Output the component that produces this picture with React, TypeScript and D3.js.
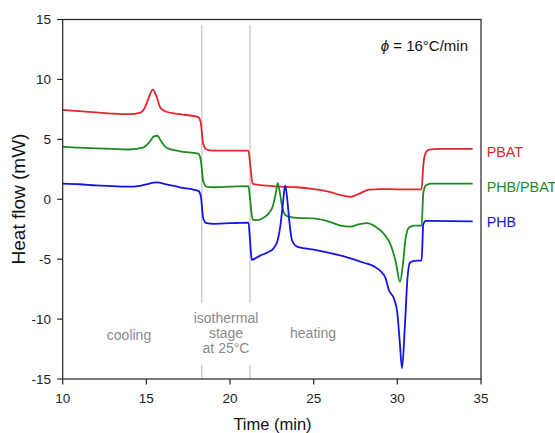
import React from "react";
import * as d3 from "d3";

const pbatT = [10, 11, 12, 13, 14, 14.6, 14.9, 15.15, 15.38, 15.6, 15.85, 16.2, 17, 18.1, 18.25, 18.4, 18.6, 19, 20, 21.1, 21.2, 21.35, 21.7, 22, 23, 24, 25, 26, 26.6, 27.2, 27.7, 28.3, 29, 30, 31, 31.45, 31.55, 31.7, 31.9, 32.5, 34.5];
const pbatV = [7.45, 7.35, 7.25, 7.15, 7.1, 7.2, 7.6, 8.5, 9.15, 8.6, 7.6, 7.3, 7.1, 6.85, 6.4, 4.6, 4.15, 4.05, 4.05, 4.05, 3.0, 1.3, 1.2, 1.15, 1.05, 1.0, 0.85, 0.6, 0.35, 0.2, 0.45, 0.8, 0.85, 0.83, 0.83, 0.83, 2.8, 3.9, 4.15, 4.2, 4.2];

const blendT = [10, 11, 12, 13, 14, 14.8, 15.2, 15.45, 15.65, 15.9, 16.2, 17, 18.1, 18.25, 18.4, 18.6, 19, 20, 21.1, 21.2, 21.35, 21.6, 22.0, 22.3, 22.55, 22.75, 22.85, 22.95, 23.1, 23.3, 23.5, 24, 25, 26, 26.6, 27.2, 27.7, 28.2, 28.7, 29.2, 29.6, 29.9, 30.16, 30.35, 30.5, 30.7, 31.0, 31.45, 31.55, 31.7, 32.0, 34.5];
const blendV = [4.4, 4.3, 4.25, 4.2, 4.15, 4.3, 4.8, 5.25, 5.3, 4.8, 4.3, 4.0, 3.8, 3.3, 1.5, 1.05, 1.0, 1.05, 1.1, 0.0, -1.7, -1.75, -1.55, -1.2, -0.6, 0.6, 1.35, 0.8, -0.5, -1.3, -1.45, -1.55, -1.6, -1.9, -2.2, -2.28, -2.1, -2.0, -2.3, -2.9, -3.8, -5.2, -6.9, -5.2, -3.2, -2.35, -2.2, -2.2, 0.5, 1.15, 1.3, 1.3];

const phbT = [10, 11, 12, 13, 14, 14.5, 15, 15.6, 16.2, 17, 18.1, 18.25, 18.4, 18.6, 19, 20, 21.1, 21.2, 21.3, 21.8, 22.3, 22.6, 22.85, 23.0, 23.15, 23.3, 23.42, 23.55, 23.7, 24.0, 24.5, 25, 26, 27, 28, 28.6, 29.0, 29.3, 29.5, 29.8, 30.0, 30.15, 30.28, 30.45, 30.6, 30.75, 31.0, 31.45, 31.55, 31.7, 32, 34.5];
const phbV = [1.3, 1.25, 1.15, 1.1, 1.05, 1.1, 1.25, 1.4, 1.25, 1.0, 0.7, 0.3, -1.6, -2.0, -2.05, -2.0, -1.95, -3.5, -5.05, -4.7, -4.4, -4.1, -3.4, -2.3, -0.5, 1.15, 0.0, -1.9, -3.4, -3.95, -4.1, -4.2, -4.5, -4.85, -5.3, -5.6, -6.0, -6.6, -7.6, -8.3, -9.5, -12.0, -14.1, -10.6, -6.7, -5.3, -5.15, -5.1, -2.1, -1.8, -1.8, -1.85];

const xTicks = [10, 15, 20, 25, 30, 35];
const yTicks = [-15, -10, -5, 0, 5, 10, 15];
const stageLines = [18.31, 21.2];
const seriesNames = ["PBAT", "PHB/PBAT", "PHB"];
const seriesColors = ["#e0262a", "#1f8a1f", "#1414e6"];

const X0 = 62.7, X1 = 481, Y0 = 379, Y1 = 19.5;

export default function App() {
  const x = d3.scaleLinear().domain([10, 35]).range([X0, X1]);
  const y = d3.scaleLinear().domain([-15, 15]).range([Y0, Y1]);
  const line = d3
    .line<[number, number]>()
    .x((d) => x(d[0]))
    .y((d) => y(d[1]))
    .curve(d3.curveMonotoneX);
  const series = [
    pbatT.map((t, i) => [t, pbatV[i]] as [number, number]),
    blendT.map((t, i) => [t, blendV[i]] as [number, number]),
    phbT.map((t, i) => [t, phbV[i]] as [number, number]),
  ];
  const font = "'Liberation Sans', Arial, sans-serif";
  const gray = "#8a8a8a";
  return (
    <svg width={555} height={433} style={{ position: "absolute", left: 0, top: 0, background: "#fff" }} fontFamily={font}>
      {stageLines.map((s) => (
        <g key={s}>
          <line x1={x(s)} x2={x(s)} y1={25} y2={303} stroke="#c8c8c8" strokeWidth={1.3} />
          <line x1={x(s)} x2={x(s)} y1={365} y2={Y0} stroke="#c8c8c8" strokeWidth={1.3} />
        </g>
      ))}
      {series.map((d, i) => (
        <path key={i} d={line(d) || ""} fill="none" stroke={seriesColors[i]} strokeWidth={1.8} strokeLinejoin="round" />
      ))}
      <rect x={X0} y={Y1} width={X1 - X0} height={Y0 - Y1} fill="none" stroke="#222" strokeWidth={1.2} />
      {yTicks.map((t) => (
        <g key={t}>
          <line x1={X0 - 5.5} x2={X0} y1={y(t)} y2={y(t)} stroke="#222" strokeWidth={1.2} />
          <text x={51} y={y(t)} dy="0.36em" textAnchor="end" fontSize={13.5} fill="#222">{t}</text>
        </g>
      ))}
      {xTicks.map((t) => (
        <g key={t}>
          <line x1={x(t)} x2={x(t)} y1={Y0} y2={Y0 + 5.5} stroke="#222" strokeWidth={1.2} />
          <text x={x(t)} y={403.3} textAnchor="middle" fontSize={13.5} fill="#222">{t}</text>
        </g>
      ))}
      <text x={272.5} y={430} textAnchor="middle" fontSize={16.5} fill="#111">Time (min)</text>
      <text transform="translate(24.5,199) rotate(-90)" textAnchor="middle" fontSize={19} fill="#111">Heat flow (mW)</text>
      <text x={380.7} y={50.7} fontSize={15} fill="#111">
        <tspan fontStyle="italic">ϕ</tspan>
        <tspan> = 16°C/min</tspan>
      </text>
      {seriesNames.map((n, i) => (
        <text key={n} x={486.7} y={[156.7, 191.7, 226.7][i]} fontSize={14.3} fill={seriesColors[i]}>{n}</text>
      ))}
      <text x={129} y={340} textAnchor="middle" fontSize={14} fill={gray}>cooling</text>
      <text x={226} y={322.7} textAnchor="middle" fontSize={14} fill={gray}>isothermal</text>
      <text x={226} y={337.5} textAnchor="middle" fontSize={14} fill={gray}>stage</text>
      <text x={226} y={353.3} textAnchor="middle" fontSize={14} fill={gray}>at 25°C</text>
      <text x={313} y={338.3} textAnchor="middle" fontSize={14} fill={gray}>heating</text>
    </svg>
  );
}
